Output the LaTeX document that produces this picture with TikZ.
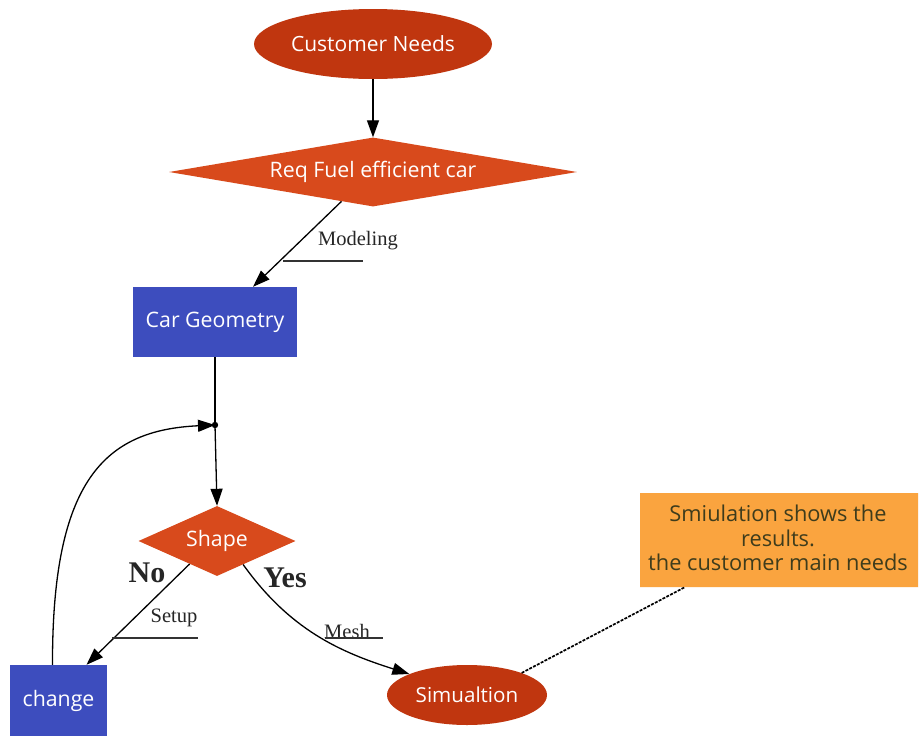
\documentclass[tikz,border=0pt]{standalone}
\usepackage{fontspec}
\setmainfont{Open Sans}
\newfontfamily\serifl{Liberation Serif}
\usetikzlibrary{shapes.geometric,shapes.misc,arrows.meta}
\definecolor{cred}{HTML}{C0360F}
\definecolor{dorange}{HTML}{D84A1C}
\definecolor{cblue}{HTML}{3D4DBE}
\definecolor{norange}{HTML}{FAA43F}
\definecolor{ntext}{HTML}{3E3C1C}
\begin{document}
\begin{tikzpicture}[x=1pt,y=-1pt,
  every node/.style={inner sep=0pt},
  ell/.style={ellipse,fill=cred,text=white,font=\fontsize{21}{24}\selectfont},
  dia/.style={diamond,fill=dorange,text=white,font=\fontsize{21.3}{24}\selectfont},
  box/.style={rectangle,fill=cblue,text=white,font=\fontsize{21.3}{24}\selectfont},
  lab/.style={font=\serifl\fontsize{20.5}{23}\selectfont,text=black!85},
  yn/.style={font=\serifl\bfseries\fontsize{30}{32}\selectfont,text=black!85},
  conn/.style={draw=black,line width=1.3pt,-{Triangle[length=17pt,width=12pt]}},
  plain/.style={draw=black,line width=1.3pt},
  uline/.style={draw=black!80,line width=1.1pt}]
\useasboundingbox[fill=white] (0,0) rectangle (921,736);

\node[ell,minimum width=238,minimum height=70] (cn) at (373,44) {Customer Needs};
\node[dia,minimum width=408,minimum height=69,shape aspect=5.9] (req) at (373,172) {Req Fuel efficient car};
\node[box,minimum width=164,minimum height=70] (car) at (215,322) {Car Geometry};
\coordinate (j) at (215,425);
\node[dia,minimum width=157,minimum height=70,shape aspect=2.2] (shape) at (217,541) {Shape};
\node[box,minimum width=97,minimum height=72] (chg) at (58.5,701) {change};
\node[ell,minimum width=160,minimum height=60,font=\fontsize{20.6}{24}\selectfont] (sim) at (467,695) {Simualtion};
\node[chamfered rectangle,chamfered rectangle corners=north east,chamfered rectangle xsep=10pt,chamfered rectangle ysep=10pt,
  fill=norange,minimum width=278,minimum height=94] (note) at (779,540) {};
\node[text=ntext,font=\fontsize{21.8}{24.5}\selectfont,align=center] (notetxt) at (778,538)
  {Smiulation shows the\\results.\\the customer main needs};

% labels
\node[lab] (modl) at (358,241) {Modeling};
\coordinate (m1) at (283,261); \coordinate (m2) at (363,261);
\node[lab] (setl) at (174,618) {Setup};
\coordinate (s1) at (112,638); \coordinate (s2) at (198,638);
\node[lab] (meshl) at (347,631) {Mesh};
\coordinate (h1) at (325,638); \coordinate (h2) at (383,638);
\node[yn] (no) at (147,573) {No};
\node[yn] (yes) at (285,578) {Yes};

% connectors
\draw[conn] (cn.south) -- (req.north);
\draw[conn] (req.223) -- ([xshift=38]car.north);
\draw[uline] (m1) -- (m2);
\draw[plain] (car.south) -- (j);
\fill (j) circle (3.2pt);
\draw[conn] (j) -- (shape.north);
\draw[conn] (shape.220) -- ([xshift=28]chg.north);
\draw[uline] (s1) -- (s2);
\draw[conn] (shape.318) .. controls (290,630) and (340,652) .. (sim.160);
\draw[uline] (h1) -- (h2);
\draw[conn] ([xshift=-6]chg.north) .. controls (52,480) and (105,430) .. (j);
\draw[draw=black,line width=1.7pt,dash pattern=on 3pt off 1.3pt] (sim.22) -- ([xshift=45]note.south west);
\end{tikzpicture}
\end{document}
